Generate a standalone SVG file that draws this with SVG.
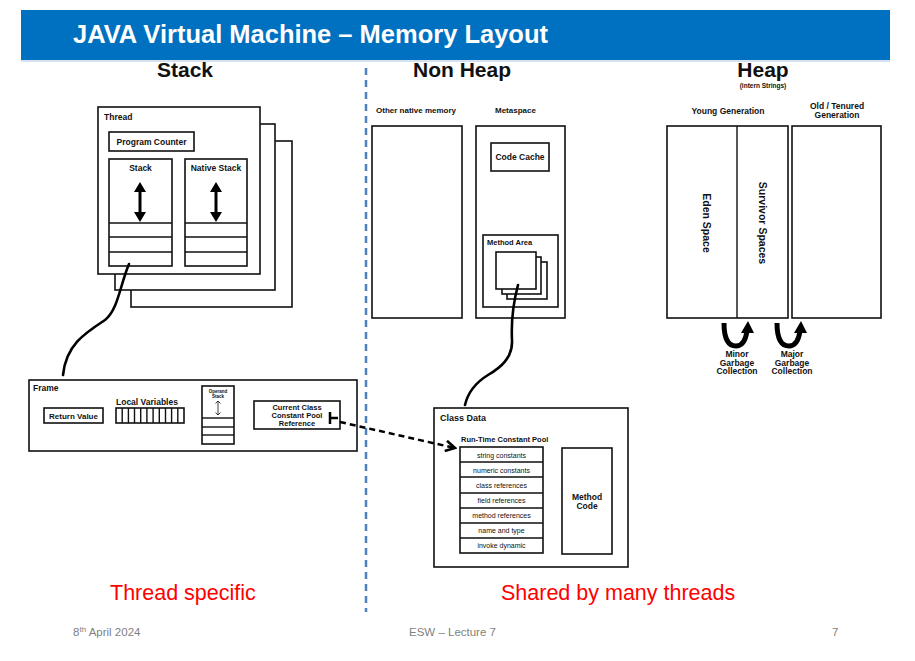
<svg xmlns="http://www.w3.org/2000/svg" width="915" height="661" viewBox="0 0 915 661">
<style>
text{font-family:"Liberation Sans",Arial,sans-serif;fill:#111}
.box{fill:#fff;stroke:#111;stroke-width:1.6}
.ln{fill:none;stroke:#111;stroke-width:1.4}
.b{font-weight:bold}
.h{font-size:21px;font-weight:bold;text-anchor:middle}
.s{font-size:8.5px;font-weight:bold}
.t{font-size:7.5px;font-weight:bold}
.g{font-size:8.5px;font-weight:bold;text-anchor:middle}
.p{font-size:7px;text-anchor:middle}
.c{text-anchor:middle}
.conn{fill:none;stroke:#000;stroke-width:2.6;stroke-linecap:round}
.red{font-size:21.5px;fill:#ff0000}
.foot{font-size:11.5px;fill:#7f7f7f}
</style>
<defs>
<marker id="chev" viewBox="0 0 12 12" refX="10" refY="6" markerWidth="5" markerHeight="5" orient="auto" markerUnits="strokeWidth">
<path d="M1,1 L10,6 L1,11" fill="none" stroke="#000" stroke-width="2.5"/>
</marker>
</defs>
<rect width="915" height="661" fill="#fff"/>
<g id="title">
<rect x="21" y="10" width="869" height="50" fill="#0070c0"/>
<line x1="21" y1="61" x2="890" y2="61" stroke="#a9c4e0" stroke-width="1"/>
<text x="73" y="43" font-size="25" font-weight="bold" style="fill:#fff" textLength="475" lengthAdjust="spacingAndGlyphs">JAVA Virtual Machine – Memory Layout</text>
</g>
<g id="divider">
<line x1="366" y1="68" x2="366" y2="612" stroke="#4f81bd" stroke-width="2.5" stroke-dasharray="7,5"/>
</g>
<g id="headings">
<text x="185" y="77" class="h">Stack</text>
<text x="462" y="77" class="h">Non Heap</text>
<text x="763" y="77" class="h">Heap</text>
<text x="763" y="88" class="c" font-size="6.5" font-weight="bold">(intern Strings)</text>
</g>
<g id="thread">
<rect class="box" x="131" y="141" width="161" height="166"/>
<rect class="box" x="115" y="124" width="160" height="166"/>
<rect class="box" x="98" y="107" width="162" height="167"/>
<text x="104" y="120" class="s">Thread</text>
<rect class="box" x="109" y="132" width="85" height="19"/>
<text x="151.5" y="145" class="s c">Program Counter</text>
<rect class="box" x="109" y="159" width="63" height="107"/>
<text x="140.5" y="171" class="s c">Stack</text>
<line class="ln" x1="109" y1="223" x2="172" y2="223"/>
<line class="ln" x1="109" y1="237" x2="172" y2="237"/>
<line class="ln" x1="109" y1="252" x2="172" y2="252"/>
<line x1="140" y1="189" x2="140" y2="215" stroke="#000" stroke-width="3"/>
<path d="M134,192 L140,182 L146,192 Z M134,212 L140,222 L146,212 Z" fill="#000"/>
<rect class="box" x="185" y="159" width="62" height="107"/>
<text x="216" y="171" class="s c">Native Stack</text>
<line class="ln" x1="185" y1="223" x2="247" y2="223"/>
<line class="ln" x1="185" y1="237" x2="247" y2="237"/>
<line class="ln" x1="185" y1="252" x2="247" y2="252"/>
<line x1="216" y1="189" x2="216" y2="215" stroke="#000" stroke-width="3"/>
<path d="M210,192 L216,182 L222,192 Z M210,212 L216,222 L222,212 Z" fill="#000"/>
</g>
<g id="frame">
<rect class="box" x="29" y="380" width="328" height="71"/>
<text x="33" y="391" class="s">Frame</text>
<rect class="box" x="44" y="408" width="59" height="15"/>
<text x="73.5" y="418.5" class="c" font-size="8" font-weight="bold">Return Value</text>
<text x="116" y="405" font-size="8.5" font-weight="bold">Local Variables</text>
<rect class="box" x="116" y="408" width="68" height="15"/>
<path class="ln" d="M122.2,408V423M128.4,408V423M134.5,408V423M140.7,408V423M146.9,408V423M153.1,408V423M159.3,408V423M165.5,408V423M171.6,408V423M177.8,408V423"/>
<rect class="box" x="202" y="386" width="32" height="58"/>
<text x="218" y="393" class="c" font-size="4.5" font-weight="bold">Operand</text>
<text x="218" y="398" class="c" font-size="4.5" font-weight="bold">Stack</text>
<path d="M218,401V415M215.5,403.5L218,401L220.5,403.5M215.5,412.5L218,415L220.5,412.5" fill="none" stroke="#111" stroke-width="0.8"/>
<line class="ln" x1="202" y1="418" x2="234" y2="418"/>
<line class="ln" x1="202" y1="427" x2="234" y2="427"/>
<line class="ln" x1="202" y1="435" x2="234" y2="435"/>
<rect class="box" x="254" y="401" width="86" height="28"/>
<text x="297" y="410" class="t c">Current Class</text>
<text x="297" y="418" class="t c">Constant Pool</text>
<text x="297" y="426" class="t c">Reference</text>
</g>
<g id="other-native-memory">
<text x="376" y="113" font-size="8" font-weight="bold">Other native memory</text>
<rect class="box" x="372" y="126" width="90" height="192"/>
</g>
<g id="metaspace">
<text x="495" y="113" font-size="8" font-weight="bold">Metaspace</text>
<rect class="box" x="476" y="126" width="89" height="192"/>
<rect class="box" x="491" y="143" width="58" height="28"/>
<text x="520" y="160" class="s c">Code Cache</text>
<rect class="box" x="483" y="235" width="75" height="72"/>
<text x="487" y="245" class="t">Method Area</text>
<rect class="box" x="507" y="262" width="40" height="37"/>
<rect class="box" x="502" y="257" width="39" height="37"/>
<rect class="box" x="496" y="252" width="40" height="37"/>
</g>
<g id="heap">
<text x="728" y="114" class="g">Young Generation</text>
<text x="837" y="109" class="g">Old / Tenured</text>
<text x="837" y="118" class="g">Generation</text>
<rect class="box" x="667" y="126" width="121" height="192"/>
<line class="ln" x1="737" y1="126" x2="737" y2="318"/>
<rect class="box" x="792" y="126" width="89" height="192"/>
<text transform="translate(703,223) rotate(90)" class="c b" font-size="10.5">Eden Space</text>
<text transform="translate(759,223) rotate(90)" class="c b" font-size="10.5">Survivor Spaces</text>
</g>
<g id="gc">
<path d="M724,323 C724,340 729,346 736,346 C743,346 746,338 747,331" fill="none" stroke="#000" stroke-width="5"/>
<path d="M741,333 L748,321 L754,333 Z" fill="#000"/>
<text x="737" y="357" class="g">Minor</text>
<text x="737" y="365.5" class="g">Garbage</text>
<text x="737" y="374" class="g">Collection</text>
<path d="M777,323 C777,340 782,346 789,346 C796,346 799,338 800,331" fill="none" stroke="#000" stroke-width="5"/>
<path d="M794,333 L801,321 L807,333 Z" fill="#000"/>
<text x="792" y="357" class="g">Major</text>
<text x="792" y="365.5" class="g">Garbage</text>
<text x="792" y="374" class="g">Collection</text>
</g>
<g id="class-data">
<rect class="box" x="434" y="408" width="194" height="159"/>
<text x="440" y="421" font-size="9" font-weight="bold">Class Data</text>
<text x="461" y="442" class="t">Run-Time Constant Pool</text>
<rect class="box" x="460" y="447" width="83" height="106"/>
<path class="ln" d="M460,462H543M460,477H543M460,493H543M460,508H543M460,523H543M460,538H543"/>
<text x="501.5" y="457.5" class="p">string constants</text>
<text x="501.5" y="472.5" class="p">numeric constants</text>
<text x="501.5" y="487.5" class="p">class references</text>
<text x="501.5" y="503" class="p">field references</text>
<text x="501.5" y="518" class="p">method references</text>
<text x="501.5" y="533" class="p">name and type</text>
<text x="501.5" y="548" class="p">invoke dynamic</text>
<rect class="box" x="562" y="448" width="50" height="106"/>
<text x="587" y="500" class="g">Method</text>
<text x="587" y="509" class="g">Code</text>
</g>
<g id="connectors">
<path class="conn" d="M129,264 C120,285 118,310 105,320 C85,333 66,345 63,375"/>
<path class="conn" d="M518,285 C514,300 511,320 512,340 C513,358 500,368 488,375 C475,383 468,392 465,405"/>
<path d="M330,412V424M330,418H338" fill="none" stroke="#000" stroke-width="2.5"/>
<path d="M340,422 L455,448" fill="none" stroke="#000" stroke-width="2.5" stroke-dasharray="6,4" marker-end="url(#chev)"/>
</g>
<g id="labels">
<text x="110" y="600" class="red">Thread specific</text>
<text x="501" y="600" class="red">Shared by many threads</text>
</g>
<g id="footer">
<text x="73" y="636" class="foot">8<tspan font-size="8" dy="-4">th</tspan><tspan dy="4"> April 2024</tspan></text>
<text x="409" y="636" class="foot">ESW – Lecture 7</text>
<text x="832" y="636" class="foot">7</text>
</g>
</svg>
